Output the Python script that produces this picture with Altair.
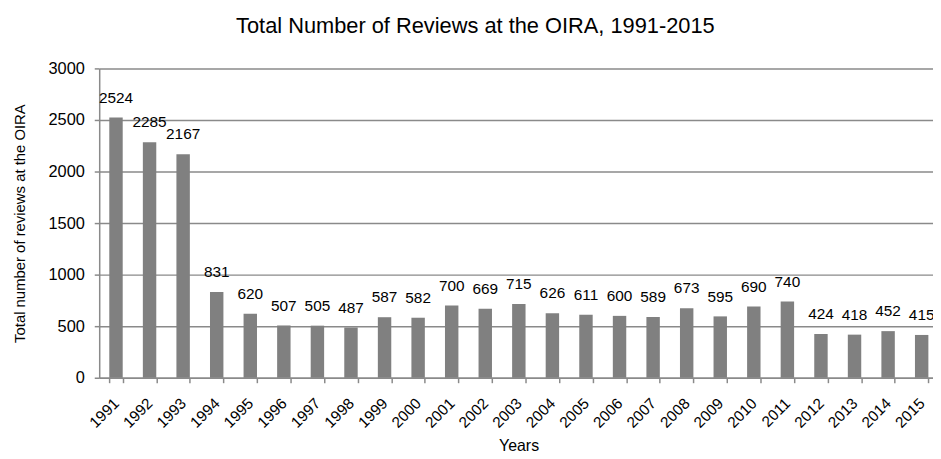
import altair as alt
import pandas as pd

years = ["1991", "1992", "1993", "1994", "1995", "1996", "1997", "1998", "1999",
         "2000", "2001", "2002", "2003", "2004", "2005", "2006", "2007", "2008",
         "2009", "2010", "2011", "2012", "2013", "2014", "2015"]
reviews = [2524, 2285, 2167, 831, 620, 507, 505, 487, 587, 582, 700, 669, 715,
           626, 611, 600, 589, 673, 595, 690, 740, 424, 418, 452, 415]
y_ticks = [0, 500, 1000, 1500, 2000, 2500, 3000]

df = pd.DataFrame({"Year": years, "Reviews": reviews})

FONT = "Liberation Sans"
GRID = "#8a8a8a"

base = alt.Chart(df).encode(
    x=alt.X(
        "Year:N",
        sort=None,
        scale=alt.Scale(range=[0, 846.5], paddingInner=0.6, paddingOuter=0.3),
        axis=alt.Axis(
            title="Years",
            labelAngle=-45,
            labelAlign="right",
            labelBaseline="middle",
            labelPadding=18,
            labelFontSize=15.5,
            labelFont=FONT,
            labelColor="black",
            titleFont=FONT,
            titleFontSize=16,
            titleFontWeight="normal",
            titleColor="black",
            titleBaseline="alphabetic",
            titleY=73,
            titleX=423,
            tickBand="extent",
            tickSize=5,
            tickColor=GRID,
            domainColor=GRID,
            domainWidth=1.5,
            tickWidth=1.5,
            grid=False,
        ),
    ),
    y=alt.Y(
        "Reviews:Q",
        scale=alt.Scale(domain=[0, 3000], nice=False),
        axis=alt.Axis(
            title="Total number of reviews at the OIRA",
            values=y_ticks,
            format="d",
            labelFontSize=16.5,
            labelFont=FONT,
            labelColor="black",
            labelPadding=10,
            titleFont=FONT,
            titleFontSize=15,
            titleFontWeight="normal",
            titleColor="black",
            titlePadding=21,
            tickSize=5,
            tickColor=GRID,
            tickWidth=1.5,
            domainColor=GRID,
            domainWidth=1.5,
            grid=True,
            gridColor=GRID,
            gridWidth=1.5,
        ),
    ),
)

bars = base.mark_bar(color="#808080")
labels = base.mark_text(
    dy=-15, baseline="alphabetic", fontSize=15.5, font=FONT, color="black"
).encode(text="Reviews:Q")

chart = (
    (bars + labels)
    .properties(
        width=841,
        height=312,
        title=alt.TitleParams(
            text="Total Number of Reviews at the OIRA, 1991-2015",
            font=FONT,
            fontSize=22,
            fontWeight="normal",
            color="black",
            anchor="middle",
            frame="bounds",
            offset=23,
        ),
        autosize=alt.AutoSizeParams(type="none"),
        padding={"left": 92, "top": 59, "right": 0, "bottom": 76},
    )
    .configure_view(stroke=None)
)

chart.save("out.html", embed_options={"renderer": "svg", "actions": False})
